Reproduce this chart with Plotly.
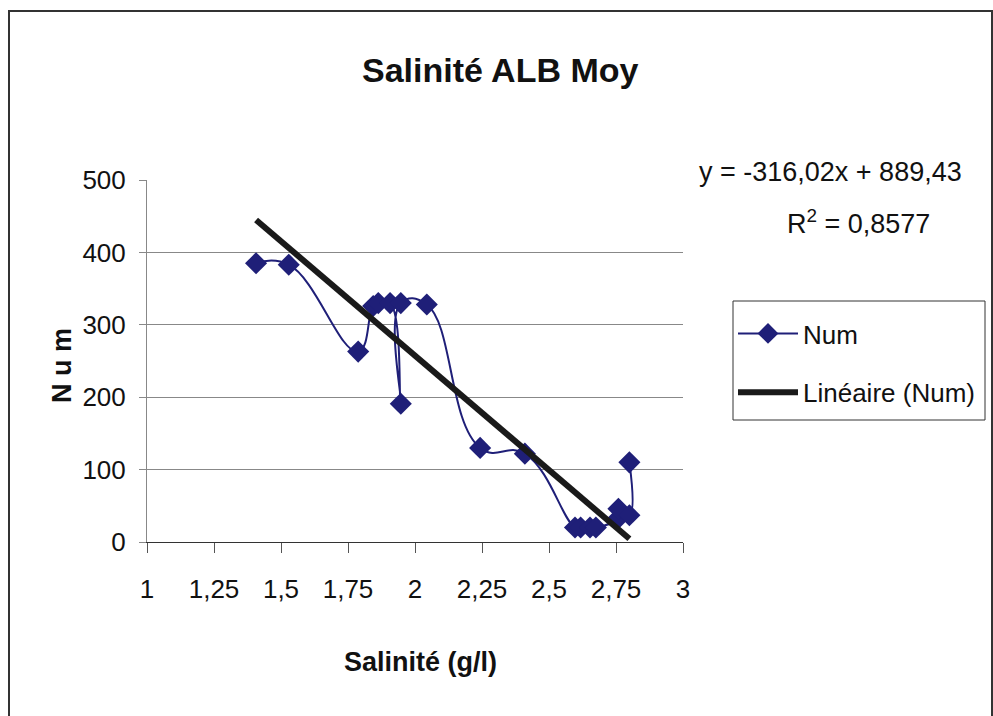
import plotly.graph_objects as go

# Data
salinite = [1.407, 1.529, 1.788, 1.844, 1.863, 1.907, 1.947, 1.947, 2.044, 2.243,
            2.410, 2.597, 2.618, 2.653, 2.675, 2.759, 2.759, 2.800, 2.800]
num = [385, 383, 263, 326, 330, 330, 191, 330, 328, 130,
       122, 20, 20, 20, 20, 33, 46, 37, 110]

slope = -316.02
intercept = 889.43
r2 = 0.8577

x_ticks = [1, 1.25, 1.5, 1.75, 2, 2.25, 2.5, 2.75, 3]
x_tick_labels = ["1", "1,25", "1,5", "1,75", "2", "2,25", "2,5", "2,75", "3"]
y_ticks = [0, 100, 200, 300, 400, 500]

FONT = "Liberation Sans Narrow, Arial Narrow, Liberation Sans, Arial, sans-serif"
NAVY = "#1F1F78"

x_fit = [min(salinite), max(salinite)]
y_fit = [slope * v + intercept for v in x_fit]

fig = go.Figure()
fig.add_trace(go.Scatter(
    x=salinite, y=num, name="Num", mode="lines+markers", legendgroup="a",
    line=dict(color=NAVY, width=2, shape="spline", smoothing=1.3),
    marker=dict(symbol="diamond", size=17, color=NAVY),
))
fig.add_trace(go.Scatter(
    x=x_fit, y=y_fit, name="Linéaire (Num)", mode="lines", legendgroup="b",
    line=dict(color="#1a1a1a", width=6),
))

W, H = 993, 716
L, R, T, B = 147, 310, 180, 174

def px(xp):
    return (xp - L) / (W - L - R)

def py(yp):
    return (H - B - yp) / (H - T - B)

eq = "y = " + f"{slope:.2f}".replace(".", ",") + "x + " + f"{intercept:.2f}".replace(".", ",")
r2txt = "R<sup>2</sup> = " + f"{r2:.4f}".replace(".", ",")

fig.update_layout(
    width=W, height=H,
    margin=dict(l=L, r=R, t=T, b=B),
    paper_bgcolor="white", plot_bgcolor="white",
    font=dict(family=FONT, color="#111111", size=26),
    showlegend=True,
    legend=dict(
        x=px(733), y=py(310), xanchor="left", yanchor="top",
        borderwidth=0, bgcolor="rgba(0,0,0,0)",
        font=dict(family=FONT, size=26, color="#111111"),
        itemwidth=60, traceorder="grouped", tracegroupgap=22,
    ),
    xaxis=dict(
        range=[1, 3], tickvals=x_ticks, ticktext=x_tick_labels,
        showgrid=False, zeroline=False,
        showline=True, linecolor="#333333", linewidth=1,
        ticks="outside", ticklen=10, tickcolor="#555555",
        ticklabelstandoff=14,
        tickfont=dict(family=FONT, size=26, color="#111111"),
    ),
    yaxis=dict(
        range=[0, 500], tickvals=y_ticks,
        showgrid=True, gridcolor="#888888", gridwidth=1,
        zeroline=False,
        showline=True, linecolor="#888888", linewidth=1,
        ticks="outside", ticklen=7, tickcolor="#888888",
        ticklabelstandoff=8,
        tickfont=dict(family=FONT, size=26, color="#111111"),
    ),
    annotations=[
        dict(text="<b>Salinité ALB Moy</b>", xref="paper", yref="paper",
             x=px(500), y=py(70), xanchor="center", yanchor="middle",
             showarrow=False, font=dict(family=FONT, size=34, color="#111111")),
        dict(text="<b>Salinité (g/l)</b>", xref="paper", yref="paper",
             x=px(420), y=py(662), xanchor="center", yanchor="middle",
             showarrow=False, font=dict(family=FONT, size=27, color="#111111")),
        dict(text="<b>N u m</b>", xref="paper", yref="paper",
             x=px(62), y=py(365), xanchor="center", yanchor="middle", textangle=-90,
             showarrow=False, font=dict(family=FONT, size=27, color="#111111")),
        dict(text=eq, xref="paper", yref="paper",
             x=px(830), y=py(172), xanchor="center", yanchor="middle",
             showarrow=False, font=dict(family=FONT, size=27, color="#111111")),
        dict(text=r2txt, xref="paper", yref="paper",
             x=px(858), y=py(222), xanchor="center", yanchor="middle",
             showarrow=False, font=dict(family=FONT, size=27, color="#111111")),
    ],
    shapes=[
        dict(type="rect", xref="paper", yref="paper",
             x0=px(9), x1=px(992), y0=py(730), y1=py(11),
             line=dict(color="#333333", width=2), fillcolor="rgba(0,0,0,0)", layer="below"),
        dict(type="rect", xref="paper", yref="paper",
             x0=px(733), x1=px(985), y0=py(420), y1=py(301),
             line=dict(color="#333333", width=1), fillcolor="rgba(0,0,0,0)", layer="below"),
    ],
)

fig.write_html("out.html")
